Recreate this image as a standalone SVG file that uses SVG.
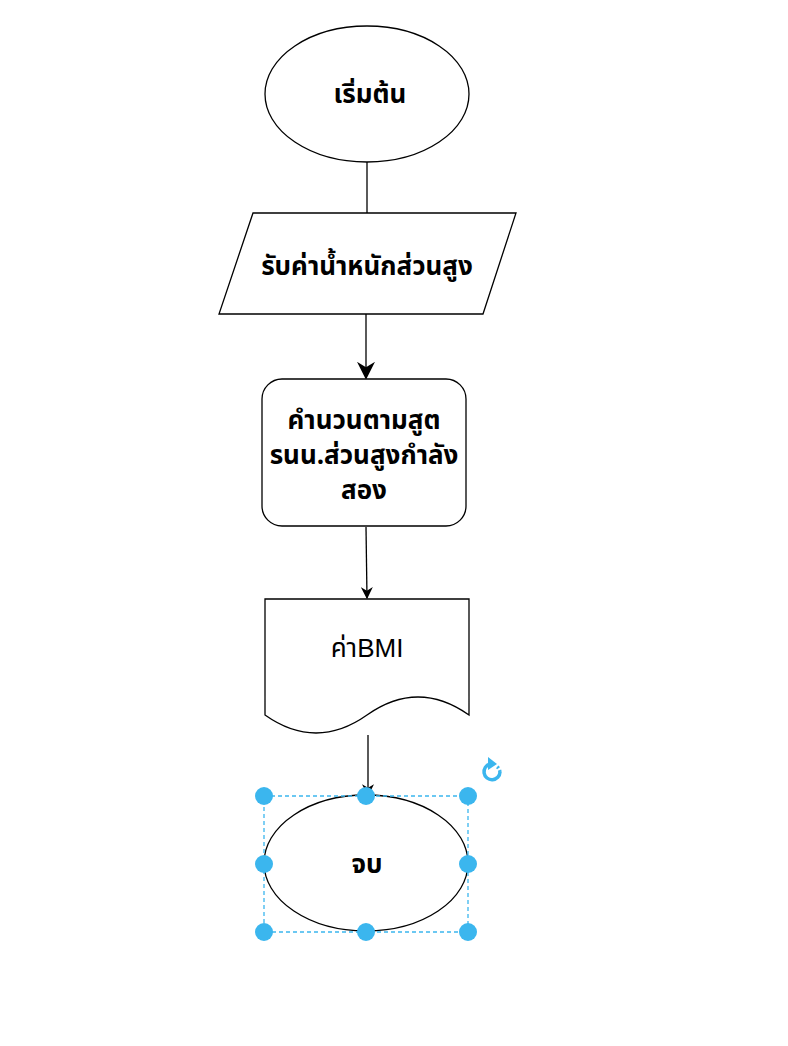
<svg xmlns="http://www.w3.org/2000/svg" width="788" height="1046" viewBox="0 0 788 1046">
<style>
.s{fill:#fff;stroke:#000;stroke-width:1.3}
.t{font-family:"Noto Sans Thai","Noto Sans","DejaVu Sans",sans-serif;font-size:26px;fill:#000;text-anchor:middle}
.l{font-family:"Liberation Sans","Noto Sans Thai",sans-serif}
.b{font-weight:bold}
.c{fill:none;stroke:#000;stroke-width:1.3}
.h{fill:#3bb6ee}
</style>
<defs>
<marker id="a" viewBox="0 0 10 10" refX="9" refY="5" markerWidth="12" markerHeight="12" markerUnits="userSpaceOnUse" orient="auto">
<path d="M0,0 L10,5 L0,10 L3,5 Z" fill="#000"/>
</marker>
<marker id="a2" viewBox="0 0 10 10" refX="9" refY="5" markerWidth="18" markerHeight="18" markerUnits="userSpaceOnUse" orient="auto">
<path d="M0,0 L10,5 L0,10 L3,5 Z" fill="#000"/>
</marker>
</defs>
<rect width="788" height="1046" fill="#fff"/>
<g id="connectors">
<line class="c" x1="367" y1="162" x2="367" y2="213"/>
<line class="c" x1="366" y1="314" x2="366" y2="378" stroke-width="2" marker-end="url(#a2)"/>
<line class="c" x1="366" y1="527" x2="367" y2="598" marker-end="url(#a)"/>
<line class="c" x1="368" y1="735" x2="368" y2="795" marker-end="url(#a)"/>
</g>
<g id="start">
<ellipse class="s" cx="367" cy="94" rx="102" ry="68"/>
<text class="t b" x="370" y="103" font-size="27">เริ่มต้น</text>
</g>
<g id="input">
<path class="s" d="M253,213 H516 L483,314 H219 Z"/>
<text class="t b" x="367" y="275" font-size="27">รับค่าน้ำหนักส่วนสูง</text>
</g>
<g id="process">
<rect class="s" x="262" y="379" width="204" height="147" rx="20"/>
<text class="t b" x="364" y="429" font-size="25">คำนวนตามสูต</text>
<text class="t b" x="364" y="464" font-size="25">รนน.ส่วนสูงกำลัง</text>
<text class="t b" x="364" y="499" font-size="25">สอง</text>
</g>
<g id="output">
<path class="s" d="M265,599 H469 V715 Q418,679 367,715 Q316,751 265,715 Z"/>
<text class="t l" x="367" y="657" font-size="25">ค่าBMI</text>
</g>
<g id="end">
<ellipse class="s" cx="366" cy="863" rx="102" ry="68"/>
<text class="t b" x="367" y="873" font-size="24">จบ</text>
</g>
<g id="selection">
<rect x="264" y="796" width="204" height="136" fill="none" stroke="#3bb6ee" stroke-width="1.3" stroke-dasharray="4,3"/>
<circle class="h" cx="264" cy="796" r="9"/>
<circle class="h" cx="366" cy="796" r="9"/>
<circle class="h" cx="468" cy="796" r="9"/>
<circle class="h" cx="264" cy="864" r="9"/>
<circle class="h" cx="468" cy="864" r="9"/>
<circle class="h" cx="264" cy="932" r="9"/>
<circle class="h" cx="366" cy="932" r="9"/>
<circle class="h" cx="468" cy="932" r="9"/>
<path d="M490,764 A8,8 0 1 0 500,772" fill="none" stroke="#3bb6ee" stroke-width="3.5"/>
<path d="M500,772 A8,8 0 0 0 496,766" fill="none" stroke="#3bb6ee" stroke-width="3.5" stroke-dasharray="2,2"/>
<path d="M488,757 L497,764 L488,770 Z" fill="#3bb6ee"/>
</g>
</svg>
